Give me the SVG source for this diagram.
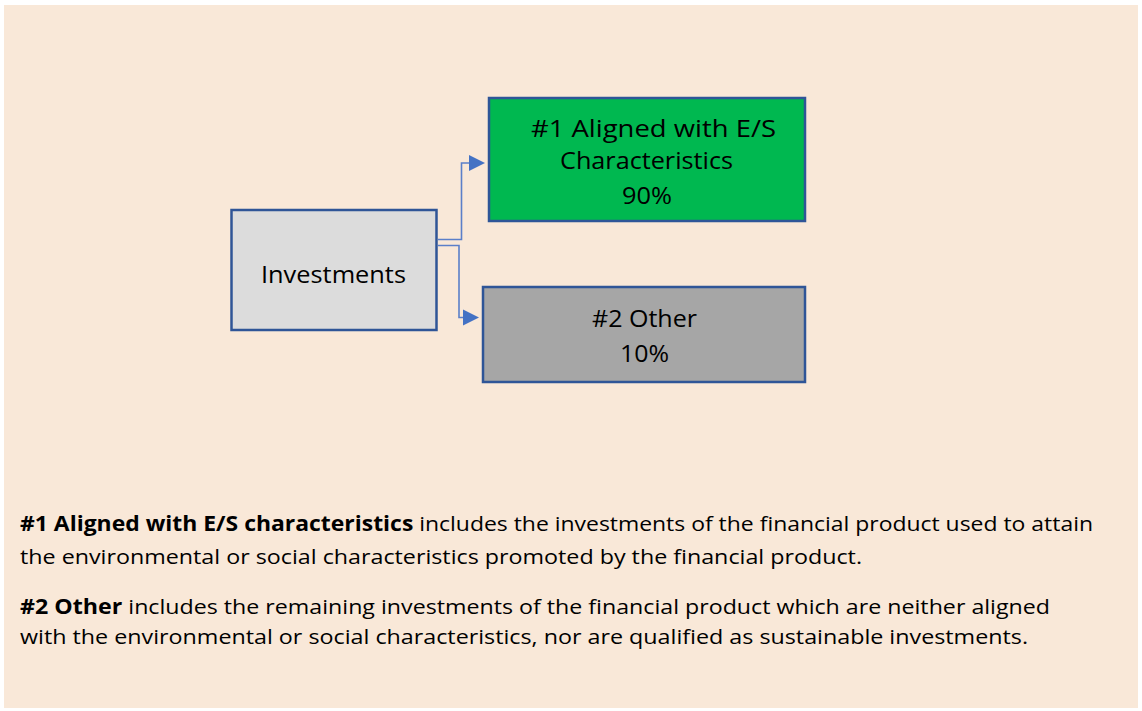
<svg xmlns="http://www.w3.org/2000/svg" width="1142" height="711" viewBox="0 0 1142 711">
<defs>
<style>
.t{font-family:"Open Sans","Liberation Sans",sans-serif;fill:#000;}
.n{font-size:24px;}
.box{stroke:#2F5597;stroke-width:2.5;}
.conn{fill:none;stroke:#5B7FC9;stroke-width:1.6;}
.b{font-weight:bold;}
.arrow{fill:#4472C4;}
</style>
</defs>
<rect x="0" y="0" width="1142" height="711" fill="#ffffff"/>
<rect x="4" y="5" width="1134" height="703" fill="#F9E8D8"/>
<g id="connectors">
<path class="conn" d="M438,239.5 H461.5 V163 H470"/>
<path class="arrow" d="M469,155 L485,163 L469,171 Z"/>
<path class="conn" d="M438,245.5 H459 V317.5 H464"/>
<path class="arrow" d="M463,309.5 L479,317.5 L463,325.5 Z"/>
</g>
<g id="investments">
<rect class="box" x="231.5" y="210" width="205" height="120" fill="#DCDCDC"/>
<text class="t n" x="261" y="283" textLength="145" lengthAdjust="spacingAndGlyphs">Investments</text>
</g>
<g id="aligned">
<rect class="box" x="489" y="98" width="316" height="123" fill="#00B850"/>
<text class="t n" x="531" y="137" textLength="245" lengthAdjust="spacingAndGlyphs">#1 Aligned with E/S</text>
<text class="t n" x="560" y="169" textLength="173" lengthAdjust="spacingAndGlyphs">Characteristics</text>
<text class="t n" x="622" y="204" textLength="50" lengthAdjust="spacingAndGlyphs">90%</text>
</g>
<g id="other">
<rect class="box" x="483" y="287" width="322" height="95" fill="#A6A6A6"/>
<text class="t n" x="592" y="327" textLength="105" lengthAdjust="spacingAndGlyphs">#2 Other</text>
<text class="t n" x="620" y="362" textLength="49" lengthAdjust="spacingAndGlyphs">10%</text>
</g>
<g id="legend">
<text class="t" x="20" y="531" font-size="20.5" textLength="1073" lengthAdjust="spacingAndGlyphs"><tspan class="b">#1 Aligned with E/S characteristics</tspan> includes the investments of the financial product used to attain</text>
<text class="t" x="20" y="564" font-size="20.5" textLength="842" lengthAdjust="spacingAndGlyphs">the environmental or social characteristics promoted by the financial product.</text>
<text class="t" x="20" y="614" font-size="20.5" textLength="1030" lengthAdjust="spacingAndGlyphs"><tspan class="b">#2 Other</tspan> includes the remaining investments of the financial product which are neither aligned</text>
<text class="t" x="20" y="644" font-size="20.5" textLength="1008" lengthAdjust="spacingAndGlyphs">with the environmental or social characteristics, nor are qualified as sustainable investments.</text>
</g>
</svg>
